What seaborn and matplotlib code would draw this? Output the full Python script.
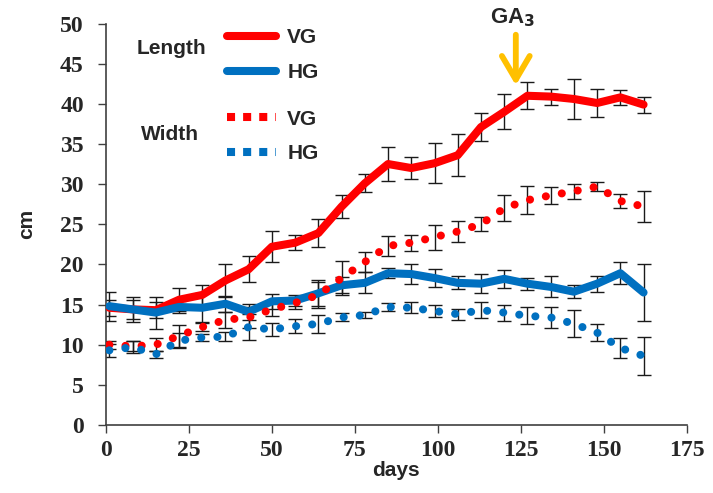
import matplotlib
matplotlib.use("Agg")
import matplotlib.pyplot as plt
from matplotlib.lines import Line2D
import seaborn as sns
import pandas as pd

# ---- data ----
days = [1, 8, 15, 22, 29, 36, 43, 50, 57, 64, 71, 78, 85, 92, 99, 106,
        113, 120, 127, 134, 141, 148, 155, 162]

length_vg = [14.6, 14.4, 14.3, 15.6, 16.2, 18.0, 19.4, 22.2, 22.7, 23.9, 27.2, 30.1,
             32.5, 32.0, 32.6, 33.6, 37.1, 39.0, 41.0, 40.9, 40.6, 40.1, 40.8, 39.9]
length_hg = [14.8, 14.4, 14.0, 14.7, 14.6, 15.1, 14.1, 15.4, 15.5, 16.4, 17.4, 17.7,
             18.9, 18.8, 18.3, 17.7, 17.6, 18.2, 17.6, 17.2, 16.6, 17.6, 18.9, 16.5]
width_vg = [10.0, 9.8, 10.0, 11.1, 12.2, 13.1, 13.4, 14.4, 15.2, 16.2, 18.3, 20.3,
            22.3, 22.7, 23.4, 24.1, 25.0, 27.0, 28.0, 28.6, 29.1, 29.7, 27.9, 27.2]
width_hg = [9.3, 9.7, 8.8, 10.5, 10.9, 11.0, 12.2, 11.9, 12.3, 12.6, 13.4, 13.7,
            14.7, 14.6, 14.2, 13.8, 14.3, 14.0, 13.6, 13.4, 12.6, 11.5, 9.6, 8.6]

length_vg_err = [1.0, 1.2, 1.0, 1.4, 1.2, 2.0, 1.6, 1.9, 0.9, 1.7, 1.45, 1.1,
                 2.1, 1.4, 2.5, 2.6, 1.75, 2.2, 1.7, 1.0, 2.5, 1.7, 0.9, 1.0]
length_hg_err = [1.8, 1.6, 2.0, 0.8, 1.8, 1.0, 1.0, 0.95, 0.7, 1.6, 1.0, 1.3,
                 0.65, 1.3, 1.1, 0.8, 1.15, 1.1, 0.75, 1.3, 0.8, 1.0, 1.4, 3.5]
width_vg_err = [0.5, 0.6, 0.8, 1.4, 0.5, 1.0, 1.3, 0.8, 0.7, 1.6, 2.1, 1.2,
                1.25, 1.0, 1.55, 1.3, 0.9, 1.6, 1.75, 1.1, 0.9, 0.5, 0.9, 1.95]
width_hg_err = [0.8, 0.75, 0.4, 0.9, 0.4, 0.6, 1.65, 0.8, 0.85, 1.1, 0.5, 0.4,
                0.55, 0.7, 0.7, 0.7, 1.0, 1.0, 1.05, 1.35, 1.7, 1.1, 1.2, 2.4]

x_ticks = [0, 25, 50, 75, 100, 125, 150, 175]
y_ticks = [0, 5, 10, 15, 20, 25, 30, 35, 40, 45, 50]
ga3_day = 123.5
ga3_from, ga3_to = 48.6, 42.3

RED = "#FF0000"
BLUE = "#0070C0"
ORANGE = "#FFC000"

sns.set_style("ticks")
plt.rcParams["font.family"] = ["Liberation Sans", "DejaVu Sans"]

df = pd.DataFrame({"days": days, "length_vg": length_vg, "length_hg": length_hg,
                   "width_vg": width_vg, "width_hg": width_hg})

fig = plt.figure(figsize=(7.13, 4.93), dpi=100)
ax = fig.add_axes([106 / 713, 68 / 493, 580.7 / 713, 401.5 / 493])

# error bars (under the lines)
for vals, errs in [(length_vg, length_vg_err), (length_hg, length_hg_err),
                   (width_vg, width_vg_err), (width_hg, width_hg_err)]:
    ax.errorbar(days, vals, yerr=errs, fmt="none", ecolor="#1a1a1a",
                elinewidth=1.0, capsize=5, capthick=1.0, zorder=2)

LW = 5.8
DLW = 5.8
sns.lineplot(data=df, x="days", y="length_vg", ax=ax, color=RED, lw=LW,
             solid_capstyle="round", solid_joinstyle="round", zorder=3)
sns.lineplot(data=df, x="days", y="length_hg", ax=ax, color=BLUE, lw=LW,
             solid_capstyle="round", solid_joinstyle="round", zorder=3)
dot_style = (0, (0.01, 2.0))
sns.lineplot(data=df, x="days", y="width_vg", ax=ax, color=RED, lw=DLW,
             linestyle=dot_style, dash_capstyle="round", zorder=3)
sns.lineplot(data=df, x="days", y="width_hg", ax=ax, color=BLUE, lw=DLW,
             linestyle=dot_style, dash_capstyle="round", zorder=3)

ax.set_xlim(0, 175)
ax.set_ylim(0, 50)
ax.set_xticks(x_ticks)
ax.set_yticks(y_ticks)
tick_font = {"family": "Liberation Serif", "weight": "bold", "size": 17}
ax.set_xticklabels([str(t) for t in x_ticks], fontdict=tick_font)
ax.set_yticklabels([str(t) for t in y_ticks], fontdict=tick_font)
ax.tick_params(axis="x", length=6, width=1.0, color="#404040", pad=5)
ax.tick_params(axis="y", length=6, width=1.0, color="#404040", pad=10)
for s in ["top", "right"]:
    ax.spines[s].set_visible(False)
for s in ["left", "bottom"]:
    ax.spines[s].set_color("#404040")
    ax.spines[s].set_linewidth(1.2)

ax.set_xlabel("days", fontsize=15, fontweight="bold", labelpad=0)
ax.set_ylabel("cm", fontsize=15, fontweight="bold", labelpad=17)

# legend (two groups)
lab_font = {"size": 15, "weight": "bold"}
h_len = [Line2D([], [], color=RED, lw=LW), Line2D([], [], color=BLUE, lw=LW)]
h_wid = [Line2D([], [], color=RED, lw=DLW, linestyle=(0, (1, 1)), dash_capstyle="butt"),
         Line2D([], [], color=BLUE, lw=DLW, linestyle=(0, (1, 1)), dash_capstyle="butt")]
leg1 = ax.legend(h_len, ["VG", "HG"], loc="center left", bbox_to_anchor=(0.208, 0.9215),
                 frameon=False, prop=lab_font, handlelength=2.35, handletextpad=0.55,
                 labelspacing=0.75, borderpad=0, borderaxespad=0)
ax.add_artist(leg1)
ax.legend(h_wid, ["VG", "HG"], loc="center left", bbox_to_anchor=(0.208, 0.7186),
          frameon=False, prop=lab_font, handlelength=2.35, handletextpad=0.55,
          labelspacing=0.75, borderpad=0, borderaxespad=0)
ax.text(0.112, 0.9365, "Length", transform=ax.transAxes, ha="center", va="center",
        fontsize=15, fontweight="bold")
ax.text(0.110, 0.7223, "Width", transform=ax.transAxes, ha="center", va="center",
        fontsize=15, fontweight="bold")

# GA3 annotation
ax.annotate("", xy=(ga3_day, ga3_to), xytext=(ga3_day, ga3_from),
            arrowprops=dict(arrowstyle="->,head_length=0.85,head_width=0.5",
                            color=ORANGE, lw=4.2, mutation_scale=20,
                            shrinkA=0, shrinkB=0),
            annotation_clip=False, zorder=5)
ax.text(ga3_day - 0.9, 50.7, "GA$_\\mathbf{3}$", ha="center", va="center",
        fontsize=16, fontweight="bold", clip_on=False)

fig.savefig("out.png", dpi=100)
